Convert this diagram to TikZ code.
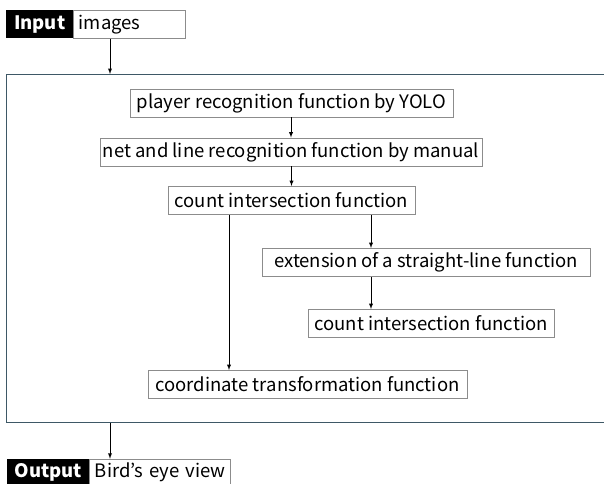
\documentclass[tikz,border=0pt]{standalone}
\usepackage{fontspec}
\newfontfamily\jpfont{Noto Sans CJK JP}
\usepackage{tikz}
\usepackage{xcolor}
\usetikzlibrary{
    arrows,
    calc,
    positioning
}
\definecolor{framecol}{RGB}{62,88,102}
\definecolor{boxcol}{RGB}{140,140,140}
\tikzset{fnbox/.style={draw=boxcol, line width=0.9pt, minimum height=28, inner sep=0pt, font=\jpfont\fontsize{18.5}{20}\selectfont},
         tagbox/.style={fill=black, text=white, minimum height=28, inner sep=0pt, anchor=north west, font=\jpfont\bfseries\fontsize{18.5}{20}\selectfont},
         valbox/.style={fnbox, anchor=west, align=left, text width=#1, inner xsep=5pt},
         flow/.style={-latex, line width=0.9pt}}

\begin{document}
\begin{tikzpicture}[x=1pt, y=-1pt]
                        \useasboundingbox (0, 0) rectangle (604, 483);
                        % input and output tags
                        \node[tagbox, minimum width=67] (inp) at (6, 10) {Input};
                        \node[valbox=102] (inptxt) at (inp.east) {images};
                        \node[tagbox, minimum width=82, minimum height=26] (outp) at (7, 459) {Output};
                        \node[valbox=131, minimum height=26] (outtxt) at (outp.east) {\mbox{Bird’s eye view}};

                        % frame round the functions
                        \node[draw=framecol, line width=1.4pt, anchor=north west, minimum width=620, minimum height=348, inner sep=0pt] (body) at (6, 74) {};

                        \node[fnbox, minimum width=323] (yolo) at (291.5, 103) {player recognition function by YOLO};
                        \node[fnbox, minimum width=382] (manual) at (291, 152) {net and line recognition function by manual};
                        \node[fnbox, minimum width=247] (count) at (291.5, 200.5) {count intersection function};
                        \node[fnbox, minimum width=328] (ext) at (426, 262.5) {extension of a straight-line function};
                        \node[fnbox, minimum width=246] (count2) at (431, 323.5) {count intersection function};
                        \node[fnbox, minimum width=319] (coord) at (307.5, 384.5) {coordinate transformation function};

                        \coordinate (io) at (110, 0);
                        \coordinate (left) at (229, 0);
                        \coordinate (right) at (371, 0);

                        \draw[flow] (inptxt.south -| io) -- (body.north -| io);
                        \draw[flow] (body.south -| io) -- (outtxt.north -| io);
                        \draw[flow] (yolo.south -| manual.north) -- (manual.north);
                        \draw[flow] (manual.south -| count.north) -- (count.north);
                        \draw[flow] (count.south -| left) -- (coord.north -| left);
                        \draw[flow] (count.south -| right) -- (ext.north -| right);
                        \draw[flow] (ext.south -| right) -- (count2.north -| right);
                    \end{tikzpicture}
\end{document}
